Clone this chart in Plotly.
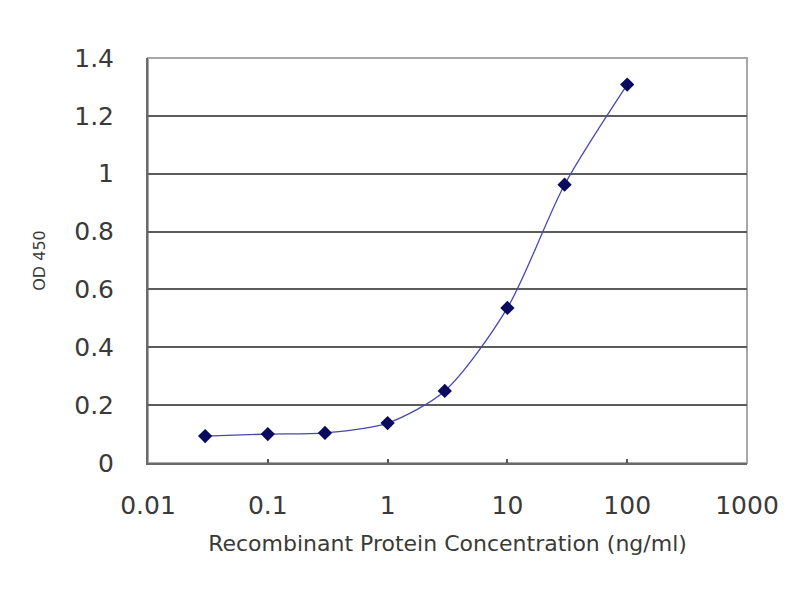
import plotly.graph_objects as go

# ELISA standard curve
concentration = [0.03, 0.1, 0.3, 1, 3, 10, 30, 100]
od450 = [0.093, 0.100, 0.104, 0.138, 0.249, 0.536, 0.962, 1.308]

x_ticks = [0.01, 0.1, 1, 10, 100, 1000]
x_ticktext = ["0.01", "0.1", "1", "10", "100", "1000"]
y_ticks = [0, 0.2, 0.4, 0.6, 0.8, 1, 1.2, 1.4]
y_ticktext = ["0", "0.2", "0.4", "0.6", "0.8", "1", "1.2", "1.4"]

fig = go.Figure()
fig.add_trace(go.Scatter(x=concentration, y=od450, mode='lines+markers',
                         line=dict(color='#4848b0', width=1.3, shape='spline', smoothing=0.8),
                         marker=dict(symbol='diamond', size=11, color='#0a0a5e'),
                         showlegend=False))

font = dict(family='DejaVu Sans, sans-serif', color='#3a3a3a')

fig.update_xaxes(type='log', range=[-2, 3],
                 tickvals=x_ticks, ticktext=x_ticktext,
                 tickfont=dict(size=25, **font),
                 showgrid=False, zeroline=False,
                 showline=True, linecolor='#6a6a6a', linewidth=2,
                 ticks='inside', ticklen=4, tickwidth=2, tickcolor='#5a5a5a',
                 ticklabelstandoff=19,
                 title=dict(text='Recombinant Protein Concentration (ng/ml)',
                            font=dict(size=22, **font), standoff=17))
fig.update_yaxes(range=[0, 1.4],
                 tickvals=y_ticks, ticktext=y_ticktext,
                 tickfont=dict(size=25, **font),
                 showgrid=True, gridcolor='#5c5c5c', gridwidth=1.6,
                 zeroline=False,
                 showline=True, linecolor='#6a6a6a', linewidth=2,
                 ticks='', ticklabelstandoff=27,
                 title=dict(text='OD 450', font=dict(size=16, **font), standoff=25))

# light grey frame round the plot area
fig.add_shape(type='rect', xref='paper', yref='paper', x0=0, y0=0, x1=1, y1=1,
              line=dict(color='#a8a8a8', width=2), layer='below')

fig.update_layout(width=800, height=600,
                  margin=dict(l=140, r=61, t=50, b=145, autoexpand=False),
                  paper_bgcolor='white', plot_bgcolor='white')

fig.write_html("out.html")
